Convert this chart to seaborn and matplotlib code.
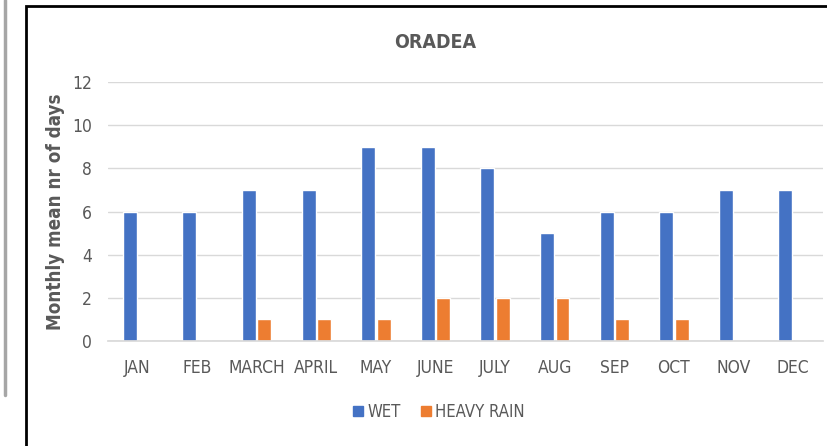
import pandas as pd
import numpy as np
import matplotlib.pyplot as plt
import seaborn as sns
from matplotlib.patches import Rectangle
from matplotlib.lines import Line2D

# ====================================
# DATA
# ====================================

months = ["JAN", "FEB", "MARCH", "APRIL", "MAY", "JUNE",
          "JULY", "AUG", "SEP", "OCT", "NOV", "DEC"]
wet = [6, 6, 7, 7, 9, 9, 8, 5, 6, 6, 7, 7]
heavy_rain = [0, 0, 1, 1, 1, 2, 2, 2, 1, 1, 0, 0]
series_names = ["WET", "HEAVY RAIN"]
y_ticks = [0, 2, 4, 6, 8, 10, 12]

df = pd.DataFrame({"Month": months, "WET": wet, "HEAVY RAIN": heavy_rain})
long_df = df.melt(id_vars="Month", var_name="Series", value_name="Days")

# ====================================
# STYLE
# ====================================

sns.set_theme(style="white")
plt.rcParams["font.family"] = ["DejaVu Sans"]
plt.rcParams["font.stretch"] = "condensed"
text_color = "#595959"
palette = {"WET": "#4472C4", "HEAVY RAIN": "#ED7D31"}

fig = plt.figure(figsize=(8.28, 4.46), dpi=100)
ax = fig.add_axes([0.130, 0.2354, 0.864, 0.5807])

sns.barplot(data=long_df, x="Month", y="Days", hue="Series",
            palette=palette, saturation=1, width=0.52, gap=0.1,
            ax=ax, legend=False)

ax.set_ylim(0, 12)
ax.set_yticks(y_ticks)
ax.set_xlim(-0.5, len(months) - 0.5)
ax.yaxis.grid(True, color="#d9d9d9", linewidth=1)
ax.set_axisbelow(True)
for side in ["top", "right", "left"]:
    ax.spines[side].set_visible(False)
ax.spines["bottom"].set_color("#d9d9d9")
ax.tick_params(axis="both", length=0, labelsize=12.5, labelcolor=text_color)
ax.tick_params(axis="x", pad=13)
ax.tick_params(axis="y", pad=11.5)
ax.set_xlabel("")
ax.set_ylabel("Monthly mean nr of days", fontsize=13.5, fontweight="bold",
              color=text_color, labelpad=5)

fig.text(435 / 828, 1 - 42 / 446, "ORADEA", ha="center", va="center",
         fontsize=14, fontweight="bold", color=text_color)

handles = [Line2D([], [], marker="s", linestyle="", markersize=7.5,
                  markerfacecolor=palette[n], markeredgecolor=palette[n])
           for n in series_names]
fig.legend(handles, series_names, loc="center", bbox_to_anchor=(437 / 828, 1 - 412 / 446),
           ncol=2, frameon=False, fontsize=12, labelcolor=text_color,
           handletextpad=0.05, columnspacing=1.0, handlelength=1)

# chart frame and page line
fig.patches.append(Rectangle((26 / 828, -0.02), 1.0, 1 - 6 / 446 + 0.02,
                             transform=fig.transFigure, fill=False,
                             edgecolor="black", linewidth=2))
fig.lines.append(Line2D([5 / 828, 5 / 828], [1, 1 - 395 / 446],
                        transform=fig.transFigure, color="#a6a6a6", linewidth=2.5))

fig.savefig("out.png", dpi=100)
